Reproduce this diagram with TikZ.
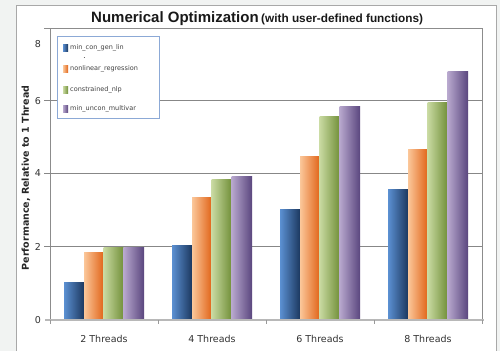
\documentclass[tikz,border=0pt]{standalone}
\usepackage{fontspec}
\setmainfont{DejaVu Sans}
\newfontfamily\titlefont{Liberation Sans}
\begin{document}
\begin{tikzpicture}[x=1pt,y=-1pt,
  gridline/.style={draw=black!47,line width=0.8pt},
  tickmark/.style={draw=black!40,line width=0.7pt},
  ticklabel/.style={font=\fontsize{9.5}{11}\selectfont,text=black!80,inner sep=0pt},
  catlabel/.style={font=\fontsize{9.5}{11}\selectfont,text=black!80,inner sep=0pt,anchor=base},
  legtext/.style={font=\fontsize{6.5}{7.5}\selectfont,text=black!75,inner sep=0pt,anchor=west},
  swatch/.style={minimum width=5pt,minimum height=7pt,inner sep=0pt,draw=none}]
\definecolor{pagebg}{HTML}{F1F3F2}
\definecolor{framegray}{HTML}{A8A8A8}
\definecolor{legborder}{HTML}{8CA9D6}
\definecolor{bluehi}{HTML}{5B90D2}\definecolor{bluelo}{HTML}{1C385F}
\definecolor{orghi}{HTML}{FBC79A}\definecolor{orglo}{HTML}{E1661A}
\definecolor{grnhi}{HTML}{C9DAA2}\definecolor{grnlo}{HTML}{72903A}
\definecolor{purhi}{HTML}{B8A8CE}\definecolor{purlo}{HTML}{5A467E}
\useasboundingbox (0,0) rectangle (500,351);
% page and chart frame
\fill[pagebg] (0,0) rectangle (500,351);
\fill[white] (16,5.3) rectangle (496,351);
\draw[framegray,line width=0.8pt] (16,351) -- (16,5.3) -- (496,5.3) -- (496,351);
% title
\node[anchor=base west,inner sep=0pt,font=\titlefont\bfseries\fontsize{15}{17}\selectfont,text=black!90] (title) at (91,22) {Numerical Optimization};
\node[anchor=base west,inner sep=0pt,font=\titlefont\bfseries\fontsize{11.8}{13}\selectfont,text=black!90] (subtitle) at (261,22) {(with user-defined functions)};
% plot area and grid
\draw[black!45,line width=0.8pt] (50,320) -- (50,28.7) -- (482.3,28.7) -- (482.3,320);
\foreach \v in {2,4,6} {
  \draw[gridline] (44,{320-\v*36.67}) -- (482.3,{320-\v*36.67});
}
\draw[black!45,line width=0.8pt] (44,28.7) -- (50,28.7);
% bars: value per group (rows) and series (columns)
\foreach \g/\va/\vb/\vc/\vd in {0/1.03/1.85/1.99/1.99, 1/2.03/3.35/3.82/3.90, 2/3.02/4.45/5.54/5.81, 3/3.57/4.65/5.93/6.77} {
  \pgfmathsetmacro{\xo}{64+108*\g}
  \shade[left color=bluehi,right color=bluelo] (\xo,320) rectangle ({\xo+20},{320-\va*36.67});
  \shade[left color=orghi,right color=orglo] ({\xo+20},320) rectangle ({\xo+39.5},{320-\vb*36.67});
  \shade[left color=grnhi,right color=grnlo] ({\xo+39.5},320) rectangle ({\xo+59.5},{320-\vc*36.67});
  \shade[left color=purhi,right color=purlo] ({\xo+59.5},320) rectangle ({\xo+80},{320-\vd*36.67});
}
% category axis
\draw[black!28,line width=1.6pt] (45,320) -- (484,320);
\foreach \x in {50,158,266,374,482.3} {
  \draw[tickmark] (\x,320) -- (\x,324);
}
% value labels
\node[ticklabel] (y0) at (38,320) {0};
\node[ticklabel] (y2) at (38,247) {2};
\node[ticklabel] (y4) at (38,173.5) {4};
\node[ticklabel] (y6) at (38,101) {6};
\node[ticklabel] (y8) at (38,44) {8};
\node[catlabel] (c2) at (104,342.5) {2 Threads};
\node[catlabel] (c4) at (212,342.5) {4 Threads};
\node[catlabel] (c6) at (320,342.5) {6 Threads};
\node[catlabel] (c8) at (428,342.5) {8 Threads};
\node[rotate=90,inner sep=0pt,font=\bfseries\fontsize{9.5}{11}\selectfont,text=black!85] (ylabel) at (26,178) {Performance, Relative to 1 Thread};
% legend
\draw[legborder,fill=white,line width=0.8pt] (57,36) rectangle (159,118);
\node[swatch,left color=bluehi,right color=bluelo] (s1) at (65.5,48) {};
\node[swatch,left color=orghi,right color=orglo] (s2) at (65.5,69) {};
\node[swatch,left color=grnhi,right color=grnlo] (s3) at (65.5,89.5) {};
\node[swatch,left color=purhi,right color=purlo] (s4) at (65.5,109) {};
\node[legtext] (l1) at (70,48) {min\_con\_gen\_lin};
\node[legtext] (l2) at (70,69) {nonlinear\_regression};
\node[legtext] (l3) at (70,89.5) {constrained\_nlp};
\node[legtext] (l4) at (70,109) {min\_uncon\_multivar};
\draw[black!60,line width=0.5pt] (83.5,57.5) -- (85,57.5);
\end{tikzpicture}
\end{document}
